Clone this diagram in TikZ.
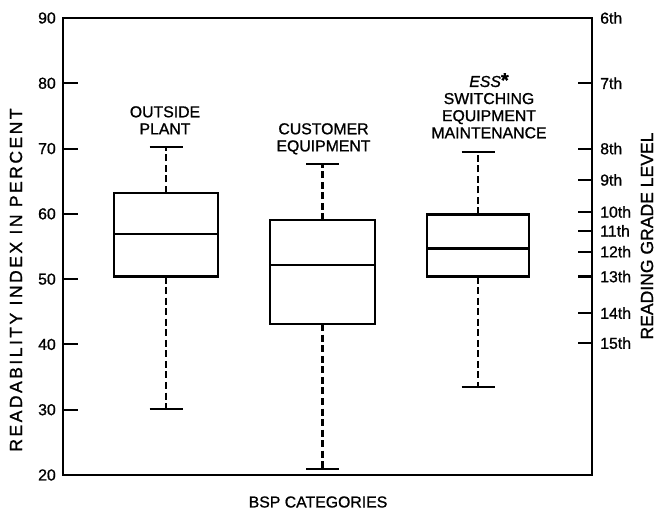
\documentclass[tikz,border=0pt]{standalone}
\usepackage{fontspec}
\setmainfont[FakeBold=1]{Liberation Sans}
\newfontfamily\spacedfont[LetterSpace=14,FakeBold=1]{Liberation Sans}
\usetikzlibrary{positioning}
\tikzset{
  frameline/.style={line width=1.8pt},
  boxline/.style={line width=1.8pt, fill=white},
  whisker/.style={line width=1.8pt, dash pattern=on 6pt off 3pt},
  capline/.style={line width=1.8pt},
  catlabel/.style={align=center, inner sep=0pt, font=\fontsize{13.5}{14.6}\selectfont},
  numlabel/.style={inner sep=0pt, font=\fontsize{13.5}{16}\selectfont},
  axislabel/.style={inner sep=0pt, rotate=90, font=\fontsize{15}{18}\selectfont}
}

\begin{document}
\begin{tikzpicture}[x=0.03cm, y=-0.03cm,
  declare function={py(\v)=18+(90-\v)*6.5286;}]
\useasboundingbox (0,0) rectangle (657,509);

% frame
\draw[frameline] (63,{py(90)}) rectangle (592,{py(20)});

% left scale
\foreach \v in {30,40,...,80}
  \draw[frameline] (63,{py(\v)}) -- (78,{py(\v)});
\foreach \v in {20,30,...,90}
  \node[numlabel, anchor=east] (left\v) at (56,{py(\v)}) {\v};

% right scale
\node[numlabel, anchor=west] (grade6) at (600,{py(90)}) {6th};
\foreach \g/\v in {7/80,8/70,9/65.2,10/60.3,11/57.4,12/54.2,13/50.4,14/44.8,15/40.2}{
  \draw[frameline] (578,{py(\v)}) -- (592,{py(\v)});
  \node[numlabel, anchor=west] (grade\g) at (600,{py(\v)}) {\g th};
}

% boxes
\foreach \cx/\hw/\lo/\qa/\md/\qb/\hi in {166/52/30.1/50.4/56.9/63.2/70.2,
    322.5/52.5/20.9/43.1/52.2/59.0/67.7, 478/51/33.5/50.4/54.7/59.9/69.5}{
  \draw[whisker] (\cx,{py(\qb)}) -- (\cx,{py(\hi)});
  \draw[whisker] (\cx,{py(\qa)}) -- (\cx,{py(\lo)});
  \draw[capline] (\cx-16.5,{py(\hi)}) -- (\cx+16.5,{py(\hi)});
  \draw[capline] (\cx-16.5,{py(\lo)}) -- (\cx+16.5,{py(\lo)});
  \draw[boxline] (\cx-\hw,{py(\qa)}) rectangle (\cx+\hw,{py(\qb)});
  \draw[frameline] (\cx-\hw,{py(\md)}) -- (\cx+\hw,{py(\md)});
}

% category labels
\node[catlabel, anchor=north] (plant) at (165,106) {OUTSIDE\\PLANT};
\node[catlabel, anchor=north] (customer) at (323.5,123) {CUSTOMER\\EQUIPMENT};
\node[catlabel, anchor=north] (ess) at (489,73)
  {\textit{ESS}{\fontsize{17}{17}\selectfont\textbf{*}}\\SWITCHING\\EQUIPMENT\\MAINTENANCE};

% axis titles
\node[axislabel] (ytitle) at (16,280) {\spacedfont READABILITY INDEX IN PERCENT};
\node[axislabel] (gtitle) at (647,236) {READING GRADE LEVEL};
\node[numlabel] (xtitle) at (318,502) {BSP CATEGORIES};
\end{tikzpicture}
\end{document}
